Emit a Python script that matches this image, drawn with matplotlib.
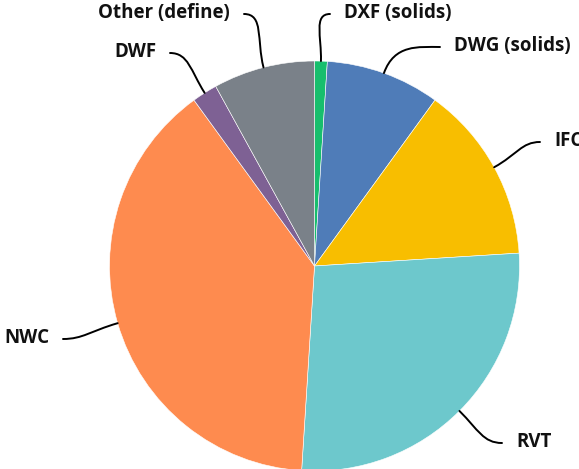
import numpy as np
import matplotlib
matplotlib.use("Agg")
import matplotlib.pyplot as plt
from matplotlib.path import Path
from matplotlib.patches import PathPatch

# File formats share (%)
categories = ["DXF (solids)", "DWG (solids)", "IFC", "RVT", "NWC", "DWF", "Other (define)"]
shares = [1, 9, 14, 27, 39, 2, 8]
colors = ["#17be6d", "#4f7cb8", "#f8be00", "#6dc8cc", "#fe8b4f", "#7e6194", "#7a8189"]

W, H = 579, 469
fig = plt.figure(figsize=(W / 100, H / 100), dpi=100)
ax = fig.add_axes([0, 0, 1, 1])

cx, cy, R = 314.5, H - 266, 205
wedges, _ = ax.pie(shares, colors=colors, startangle=90, counterclock=False,
                   center=(cx, cy), radius=R, frame=True,
                   wedgeprops=dict(edgecolor="white", linewidth=0.4))
ax.set_xlim(0, W)
ax.set_ylim(0, H)
ax.set_axis_off()

# label anchor points (end of leader line) and text side
label_pos = {
    "DXF (solids)": ((330, 14), "left"),
    "DWG (solids)": ((440, 47), "left"),
    "IFC": ((540, 142), "left"),
    "RVT": ((502, 443), "left"),
    "NWC": ((63, 339), "right"),
    "DWF": ((170, 53), "right"),
    "Other (define)": ((244, 14), "right"),
}

for w, name in zip(wedges, categories):
    mid = np.deg2rad((w.theta1 + w.theta2) / 2)
    ux, uy = np.cos(mid), np.sin(mid)
    p0 = (cx + R * ux, cy + R * uy)
    (ex, ey), side = label_pos[name]
    p3 = (ex, H - ey)
    dist = np.hypot(p3[0] - p0[0], p3[1] - p0[1])
    p1 = (p0[0] + ux * dist * 0.5, p0[1] + uy * dist * 0.5)
    sgn = 1 if side == "left" else -1
    p2 = (p3[0] - sgn * dist * 0.35, p3[1])
    path = Path([p0, p1, p2, p3], [Path.MOVETO, Path.CURVE4, Path.CURVE4, Path.CURVE4])
    ax.add_patch(PathPatch(path, facecolor="none", edgecolor="black", linewidth=1.4,
                           capstyle="round"))
    tx = p3[0] + sgn * 14
    ax.text(tx, p3[1] + 1, name, ha=side, va="center", fontsize=13.5,
            fontweight="bold", family=["Open Sans", "DejaVu Sans"], color="#111111")

fig.savefig("out.png", dpi=100)
